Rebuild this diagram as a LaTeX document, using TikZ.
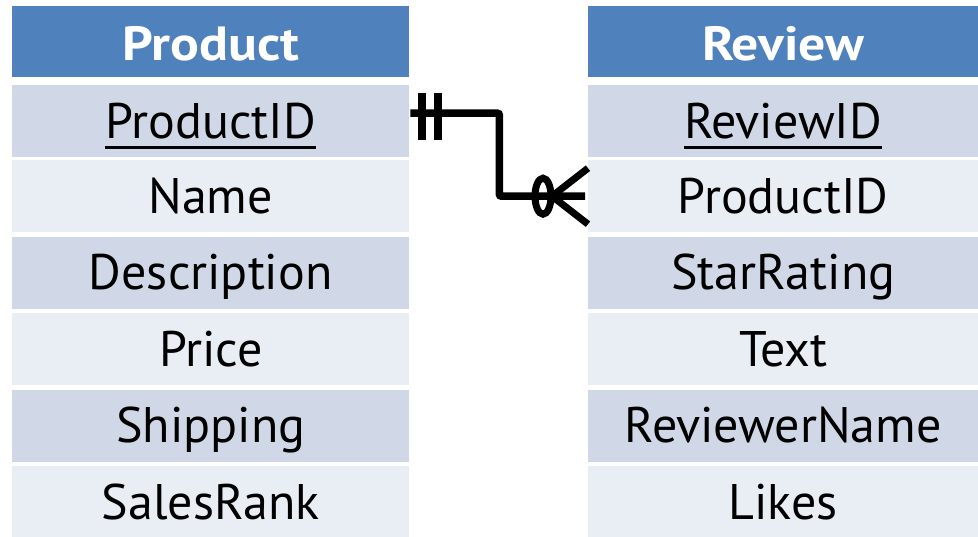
\documentclass[tikz,border=0pt]{standalone}
\usepackage{fontspec}
\setmainfont{PT Sans}
\newfontfamily\hdrfont{PT Sans}[FakeStretch=1.12]
\definecolor{hdrblue}{HTML}{4F81BD}
\definecolor{rowdark}{HTML}{D0D8E8}
\definecolor{rowlight}{HTML}{E9EDF4}
% key attribute: text with a rule drawn under it
\newcommand\keyfield[1]{\setbox0\hbox{#1}\rlap{\vrule width \wd0 height -8pt depth 10.5pt}\box0}
\tikzset{
  cell/.style={rectangle, inner sep=0pt, minimum width=397pt, minimum height=72pt,
    text height=40pt, text depth=6pt, font=\fontsize{50}{60}\selectfont, anchor=north west},
  hdr/.style={cell, fill=hdrblue, text=white, minimum height=71pt,
    text height=42pt, text depth=5pt, font=\hdrfont\fontsize{48}{58}\selectfont\bfseries},
  dark/.style={cell, fill=rowdark},
  light/.style={cell, fill=rowlight},
  relline/.style={line width=7.5pt, line cap=butt},
  markline/.style={line width=7pt},
}
\begin{document}
\begin{tikzpicture}[x=1pt, y=-1pt]
\useasboundingbox (0,0) rectangle (978,537);
% Product table
\node[hdr]   (ph) at (12,6)     {Product};
\node[dark]  (p1) at (12,85)    {\keyfield{ProductID}};
\node[light] (p2) at (12,160)   {Name};
\node[dark]  (p3) at (12,236.5) {Description};
\node[light] (p4) at (12,313)   {Price};
\node[dark]  (p5) at (12,389.5) {Shipping};
\node[light] (p6) at (12,466)   {SalesRank};
% Review table
\node[hdr,minimum width=390pt]   (rh) at (588,6)     {Review};
\node[dark,minimum width=390pt]  (r1) at (588,85)    {\keyfield{ReviewID}};
\node[light,minimum width=390pt] (r2) at (588,160)   {ProductID};
\node[dark,minimum width=390pt]  (r3) at (588,236.5) {StarRating};
\node[light,minimum width=390pt] (r4) at (588,313)   {Text};
\node[dark,minimum width=390pt]  (r5) at (588,389.5) {ReviewerName};
\node[light,minimum width=390pt] (r6) at (588,466)   {Likes};
% one-to-many relationship
\coordinate (a) at ([xshift=1pt,yshift=8pt]p1.east);
\coordinate (b) at ([xshift=-3pt]r2.west);
\draw[relline, rounded corners=2pt] (a) -- ++(89,0) |- (b);
% exactly-one marks
\fill ([xshift=8pt]a) ++(0,-20) rectangle ++(8,47);
\fill ([xshift=24pt]a) ++(0,-20) rectangle ++(8,47);
% zero-or-many marks
\draw[markline] ([xshift=-42pt]b) ellipse [x radius=8pt, y radius=18pt];
\draw[markline] ([xshift=-33pt]b) -- ++(36,-28);
\draw[markline] ([xshift=-33pt]b) -- ++(36,28);
\end{tikzpicture}
\end{document}
